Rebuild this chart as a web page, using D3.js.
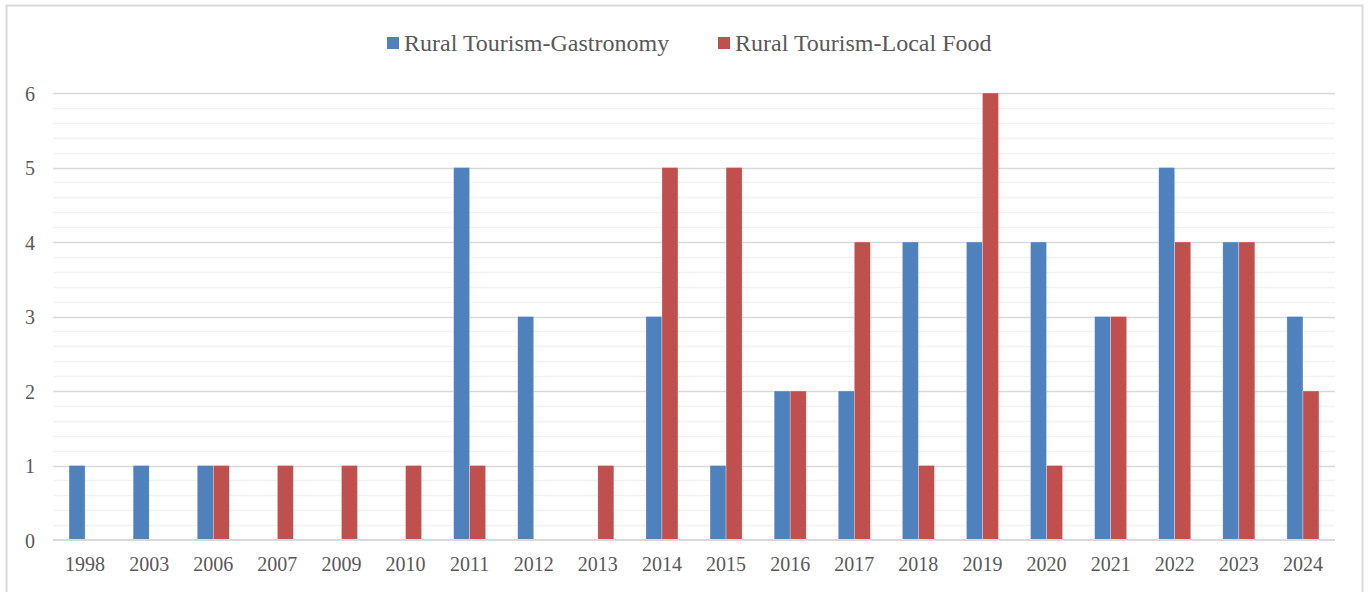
<!DOCTYPE html>
<html>
<head>
<meta charset="utf-8">
<script src="https://d3js.org/d3.v7.min.js"></script>
<style>
  html, body { margin: 0; padding: 0; background: #fff; }
  svg text { font-family: "Liberation Serif", "Times New Roman", serif; fill: #595959; }
</style>
</head>
<body>
<svg id="chart" width="1368" height="592"></svg>
<script>
// data
const years = ["1998","2003","2006","2007","2009","2010","2011","2012","2013","2014",
               "2015","2016","2017","2018","2019","2020","2021","2022","2023","2024"];
const gastronomy = [1,1,1,0,0,0,5,3,0,3,1,2,2,4,4,4,3,5,4,3];
const localFood  = [0,0,1,1,1,1,1,0,1,5,5,2,4,1,6,1,3,4,4,2];
const seriesNames = ["Rural Tourism-Gastronomy", "Rural Tourism-Local Food"];
const colors = ["#4F81BD", "#C0504D"];
const yTicks = [0,1,2,3,4,5,6];

const svg = d3.select("#chart");

// outer frame
svg.append("rect")
  .attr("x", 6.5).attr("y", 5.5)
  .attr("width", 1356).attr("height", 600)
  .attr("fill", "none").attr("stroke", "#d9d9d9").attr("stroke-width", 2);

const plot = {left: 53, right: 1335, top: 93, bottom: 540};

const x = d3.scaleBand().domain(years).range([plot.left, plot.right]);
const x1 = d3.scaleBand().domain([0, 1]).range([x.bandwidth() / 4, x.bandwidth() * 3 / 4]);
const y = d3.scaleLinear().domain([0, 6]).range([plot.bottom, plot.top]);

// minor gridlines
const minor = d3.range(0, 6.01, 0.2).filter(v => Math.abs(v - Math.round(v)) > 0.01);
svg.append("g").selectAll("line").data(minor).join("line")
  .attr("x1", plot.left).attr("x2", plot.right)
  .attr("y1", d => Math.round(y(d)) + 0.5).attr("y2", d => Math.round(y(d)) + 0.5)
  .attr("stroke", "#f2f2f2").attr("stroke-width", 1.5);

// major gridlines
svg.append("g").selectAll("line").data(yTicks.filter(d => d > 0)).join("line")
  .attr("x1", plot.left).attr("x2", plot.right)
  .attr("y1", d => Math.round(y(d)) + 0.5).attr("y2", d => Math.round(y(d)) + 0.5)
  .attr("stroke", "#d9d9d9").attr("stroke-width", 1.5);

// bars
const barData = [];
years.forEach((yr, i) => {
  [gastronomy, localFood].forEach((vals, si) => {
    if (vals[i] > 0) barData.push({year: yr, s: si, v: vals[i]});
  });
});

svg.append("g").selectAll("rect").data(barData).join("rect")
  .attr("x", d => x(d.year) + x1(d.s))
  .attr("width", x1.bandwidth())
  .attr("y", d => y(d.v))
  .attr("height", d => y(0) - y(d.v))
  .attr("fill", d => colors[d.s])
  .attr("stroke", "#ffffff").attr("stroke-width", 0.5).attr("stroke-opacity", 0.6);

// baseline
svg.append("line")
  .attr("x1", plot.left).attr("x2", plot.right)
  .attr("y1", y(0)).attr("y2", y(0))
  .attr("stroke", "#d9d9d9").attr("stroke-width", 2);

// y axis labels
const yAxis = d3.axisLeft(y).tickValues(yTicks).tickSize(0).tickPadding(18).tickFormat(d3.format("d"));
svg.append("g").attr("transform", `translate(${plot.left},0)`).call(yAxis)
  .call(g => g.select(".domain").remove())
  .attr("font-family", null)
  .selectAll("text").attr("font-size", 20).attr("dy", "0.35em");

// x axis labels
const xAxis = d3.axisBottom(x).tickSize(0).tickPadding(17);
svg.append("g").attr("transform", `translate(0,${plot.bottom})`).call(xAxis)
  .call(g => g.select(".domain").remove())
  .attr("font-family", null)
  .selectAll("text").attr("font-size", 20);

// legend
const legend = svg.append("g").attr("transform", "translate(387,43)");
const legendX = [0, 331];
seriesNames.forEach((name, i) => {
  const g = legend.append("g").attr("transform", `translate(${legendX[i]},0)`);
  g.append("rect").attr("x", 0).attr("y", -6).attr("width", 12).attr("height", 12).attr("fill", colors[i]);
  g.append("text").attr("x", 17).attr("dy", "0.35em").attr("font-size", 24).text(name);
});
</script>
</body>
</html>
